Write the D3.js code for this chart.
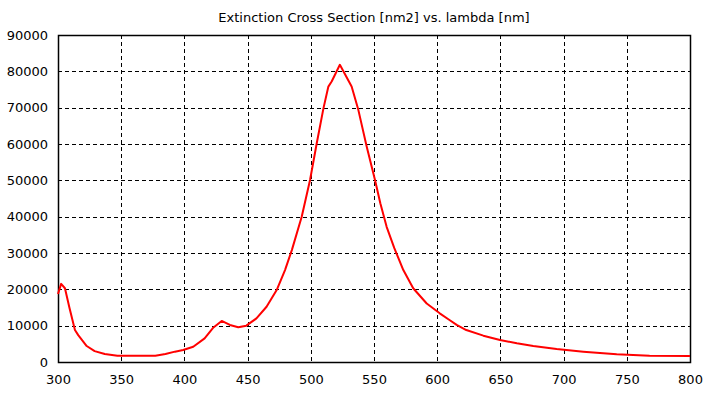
<!DOCTYPE html>
<html>
<head>
<meta charset="utf-8">
<script src="https://cdn.jsdelivr.net/npm/d3@7"></script>
<style>
  body { margin: 0; background: #fff; }
  .axis text { font-family: "DejaVu Sans", sans-serif; font-size: 13px; fill: #000; }
  .axis path, .axis line { stroke: #000; }
  .grid line { stroke: #000; stroke-dasharray: 4,3; }
</style>
</head>
<body>
<script>
var lambda = [300, 302.5, 305.5, 309, 313.4, 316, 322.7, 329, 337, 347, 360, 377, 385, 392.5, 399,
  407, 416, 423, 429.5, 436, 442.6, 449, 457, 465, 473, 479.6, 485, 492.8, 499.4, 504.7, 510,
  513.9, 516.5, 523, 532.3, 537.6, 544.2, 550.8, 555, 560, 566, 573.2, 581, 591.7, 602, 610,
  615.4, 623, 636.5, 649.7, 663, 676, 694.5, 715.6, 742, 768, 800];
var cext = [18700, 21500, 20300, 15000, 8800, 7400, 4400, 3000, 2200, 1750, 1700, 1750, 2200, 2850, 3300,
  4200, 6500, 9500, 11300, 10200, 9550, 10000, 12000, 15200, 19800, 25300, 30800, 40000, 50100, 60200, 69800,
  75800, 77200, 81800, 75800, 69400, 59300, 50100, 43700, 37200, 31400, 25300, 20300, 16100, 13400, 11500,
  10200, 8800, 7250, 6050, 5150, 4400, 3580, 2850, 2100, 1750, 1650];
var xTicks = [300, 350, 400, 450, 500, 550, 600, 650, 700, 750, 800];
var yTicks = [0, 10000, 20000, 30000, 40000, 50000, 60000, 70000, 80000, 90000];

var margin = {top: 35, right: 20, bottom: 32, left: 58};
var width = 710 - margin.left - margin.right;
var height = 394 - margin.top - margin.bottom;

var svg = d3.select("body").append("svg")
  .attr("width", 710)
  .attr("height", 394);

var g = svg.append("g")
  .attr("transform", "translate(" + margin.left + "," + margin.top + ")");

var x = d3.scaleLinear().domain([300, 800]).range([0, width]);
var y = d3.scaleLinear().domain([0, 90000]).range([height, 0]);

// dashed grid
g.append("g").attr("class", "grid")
  .selectAll("line")
  .data(xTicks.slice(1, -1))
  .enter().append("line")
  .attr("x1", function(d) { return Math.round(x(d)) + 0.5; })
  .attr("x2", function(d) { return Math.round(x(d)) + 0.5; })
  .attr("y1", 0).attr("y2", height);

g.append("g").attr("class", "grid")
  .selectAll("line")
  .data(yTicks.slice(1, -1))
  .enter().append("line")
  .attr("y1", function(d) { return Math.round(y(d)) + 0.5; })
  .attr("y2", function(d) { return Math.round(y(d)) + 0.5; })
  .attr("x1", 0).attr("x2", width);

// frame
g.append("rect")
  .attr("x", 0.5).attr("y", 0.5)
  .attr("width", width).attr("height", height)
  .attr("fill", "none").attr("stroke", "#000").attr("stroke-width", 1.5);

g.append("g").attr("class", "axis")
  .attr("transform", "translate(0," + height + ")")
  .call(d3.axisBottom(x).tickValues(xTicks).tickSize(0).tickPadding(13).tickFormat(d3.format("d")))
  .call(function(s) { s.select(".domain").remove(); });

g.append("g").attr("class", "axis")
  .call(d3.axisLeft(y).tickValues(yTicks).tickSize(0).tickPadding(10).tickFormat(d3.format("d")))
  .call(function(s) { s.select(".domain").remove(); });

var line = d3.line()
  .x(function(d, i) { return x(lambda[i]); })
  .y(function(d) { return y(d); });

g.append("path")
  .datum(cext)
  .attr("d", line)
  .attr("fill", "none")
  .attr("stroke", "#ff0000")
  .attr("stroke-width", 2)
  .attr("stroke-linejoin", "round");

svg.append("text")
  .attr("x", 374).attr("y", 22)
  .attr("text-anchor", "middle")
  .style("font-family", "DejaVu Sans, sans-serif")
  .style("font-size", "13px")
  .text("Extinction Cross Section [nm2] vs. lambda [nm]");
</script>
</body>
</html>
